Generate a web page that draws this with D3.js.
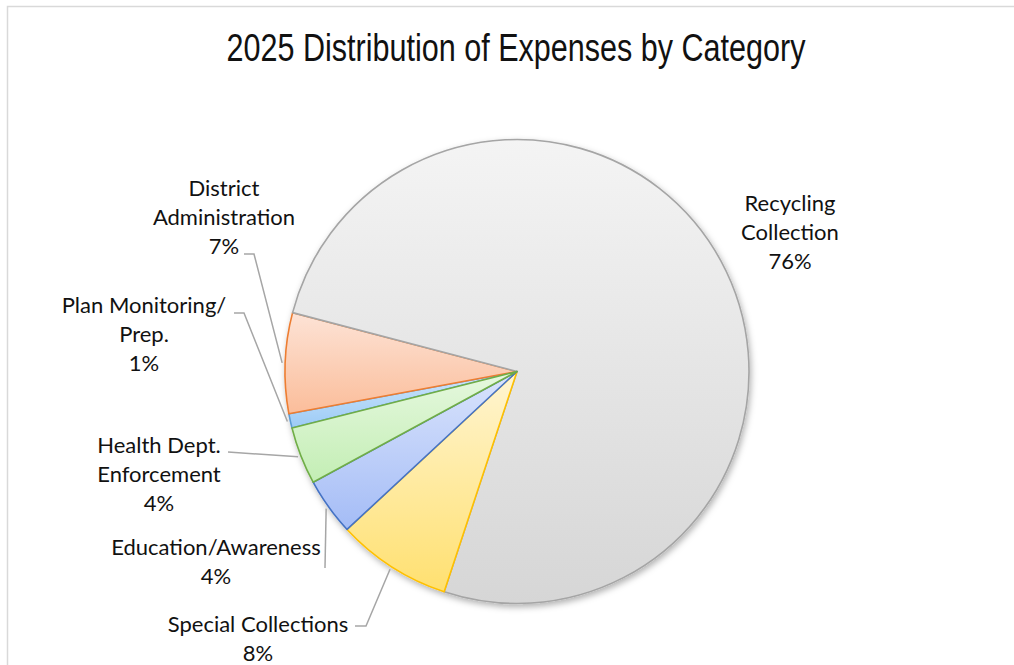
<!DOCTYPE html>
<html>
<head>
<meta charset="utf-8">
<script src="https://cdn.jsdelivr.net/npm/d3@7"></script>
<style>
  html, body { margin: 0; padding: 0; background: #fff; }
  svg { display: block; }
</style>
</head>
<body>
<svg id="chart" width="1014" height="665"></svg>
<script>
// Expense categories, in the order the slices are laid out (clockwise)
const categories = [
  "Plan Monitoring/ Prep.",
  "District Administration",
  "Recycling Collection",
  "Special Collections",
  "Education/Awareness",
  "Health Dept. Enforcement"
];
// Share of total expenses, percent
const shares = [1, 7, 76, 8, 4, 4];
// Label text lines for each category
const labelLines = [
  ["Plan Monitoring/", "Prep."],
  ["District", "Administration"],
  ["Recycling", "Collection"],
  ["Special Collections"],
  ["Education/Awareness"],
  ["Health Dept.", "Enforcement"]
];

const palette = [
  { top: "#cfe6fc", bottom: "#9ccbf6", stroke: "#5b9bd5" },
  { top: "#fde3d6", bottom: "#fbbd9a", stroke: "#ed7d31" },
  { top: "#f4f4f4", bottom: "#d6d6d6", stroke: "#a5a5a5" },
  { top: "#fff5d2", bottom: "#ffe070", stroke: "#ffc000" },
  { top: "#dae4fc", bottom: "#a4bcf6", stroke: "#4472c4" },
  { top: "#e6f8df", bottom: "#c3eeb4", stroke: "#70ad47" }
];

// Label anchor (text centre x, first baseline y) and leader start point
const labelLayout = [
  { x: 144, y: 313, leader: [[234, 313], [244, 313]] },
  { x: 224, y: 196, leader: [[244, 254], [254, 254]] },
  { x: 790, y: 211, leader: null },
  { x: 258, y: 632, leader: [[355, 626], [366, 626]] },
  { x: 216, y: 555, leader: [[325, 568], [325, 568]] },
  { x: 159, y: 453, leader: [[228, 452], [228, 452]] }
];

const W = 1014, H = 665;
const cx = 517, cy = 371.5, R = 232;
const lineGap = 29;
const startDeg = 255.9;

const svg = d3.select("#chart");
const defs = svg.append("defs");

// Chart area frame
svg.append("rect")
  .attr("x", 7.5).attr("y", 6.5)
  .attr("width", W + 10).attr("height", H + 10)
  .attr("fill", "#fff")
  .attr("stroke", "#d9d9d9").attr("stroke-width", 1.5);

// Title, set in a narrow face
svg.append("text")
  .attr("x", 516).attr("y", 61)
  .attr("text-anchor", "middle")
  .attr("font-family", "'Liberation Sans Narrow', 'Arial Narrow', 'Liberation Sans', sans-serif")
  .attr("font-size", 38)
  .attr("fill", "#111")
  .attr("textLength", 579)
  .attr("lengthAdjust", "spacingAndGlyphs")
  .text("2025 Distribution of Expenses by Category");

// Slice gradients
palette.forEach((p, i) => {
  const g = defs.append("linearGradient")
    .attr("id", "grad" + i)
    .attr("x1", 0).attr("y1", 0).attr("x2", 0).attr("y2", 1);
  g.append("stop").attr("offset", "0%").attr("stop-color", p.top);
  g.append("stop").attr("offset", "100%").attr("stop-color", p.bottom);
});

const shadow = defs.append("filter").attr("id", "pieShadow")
  .attr("x", "-10%").attr("y", "-10%").attr("width", "120%").attr("height", "120%");
shadow.append("feDropShadow")
  .attr("dx", 1.5).attr("dy", 3).attr("stdDeviation", 3)
  .attr("flood-color", "#000").attr("flood-opacity", 0.3);

const data = categories.map((c, i) => ({ name: c, value: shares[i], idx: i }));

const start = startDeg * Math.PI / 180;
const pie = d3.pie()
  .value(d => d.value)
  .sort(null)
  .startAngle(start)
  .endAngle(start + 2 * Math.PI);

const arcs = pie(data);
const arc = d3.arc().innerRadius(0).outerRadius(R);

const pieG = svg.append("g")
  .attr("transform", `translate(${cx},${cy})`)
  .attr("filter", "url(#pieShadow)");

pieG.selectAll("path.slice")
  .data(arcs)
  .join("path")
  .attr("class", "slice")
  .attr("d", arc)
  .attr("fill", d => `url(#grad${d.data.idx})`)
  .attr("stroke", d => palette[d.data.idx].stroke)
  .attr("stroke-width", 1.6)
  .attr("stroke-linejoin", "round");

// Leader lines: from label to the middle of the slice's outer edge
const leaderG = svg.append("g");
arcs.forEach(d => {
  const L = labelLayout[d.data.idx];
  if (!L.leader) return;
  const mid = (d.startAngle + d.endAngle) / 2;
  const rr = R + 3;
  const end = [cx + rr * Math.sin(mid), cy - rr * Math.cos(mid)];
  const pts = L.leader.concat([end]);
  leaderG.append("path")
    .attr("d", d3.line()(pts))
    .attr("fill", "none")
    .attr("stroke", "#a6a6a6")
    .attr("stroke-width", 1.5);
});

// Category labels with percentage
const labelG = svg.append("g")
  .attr("font-family", "Lato, 'Open Sans', sans-serif")
  .attr("font-size", 22)
  .attr("fill", "#111")
  .attr("text-anchor", "middle");

arcs.forEach(d => {
  const L = labelLayout[d.data.idx];
  const lines = labelLines[d.data.idx].concat([d3.format(".0f")(d.data.value) + "%"]);
  const t = labelG.append("text").attr("x", L.x).attr("y", L.y);
  lines.forEach((s, k) => {
    t.append("tspan").attr("x", L.x).attr("y", L.y + k * lineGap).text(s);
  });
});
</script>
</body>
</html>
